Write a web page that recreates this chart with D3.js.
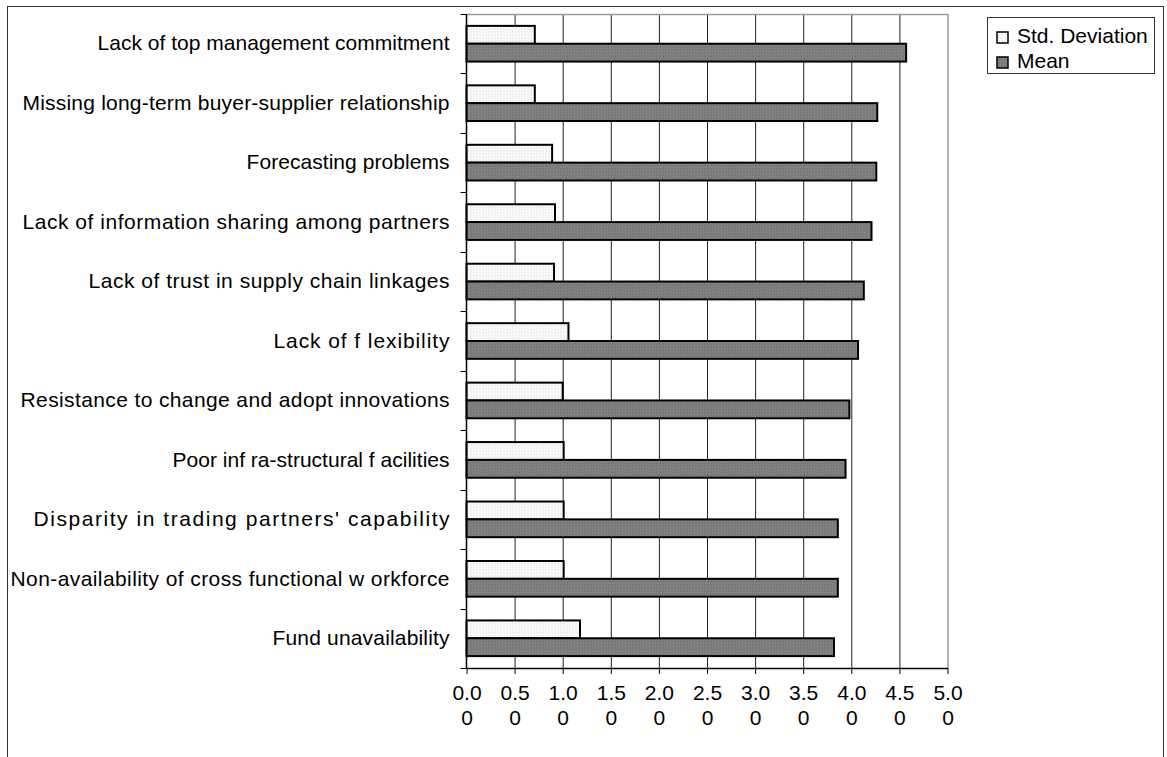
<!DOCTYPE html>
<html>
<head>
<meta charset="utf-8">
<script src="https://cdn.jsdelivr.net/npm/d3@7/dist/d3.min.js"></script>
<style>
  html, body { margin: 0; padding: 0; background: #fff; }
  svg { display: block; font-family: "Liberation Sans", Arial, sans-serif; }
</style>
</head>
<body>
<svg id="chart" width="1167" height="757"></svg>
<script>
// Barriers, listed top to bottom
const categories = [
  "Lack of top management commitment",
  "Missing long-term buyer-supplier relationship",
  "Forecasting problems",
  "Lack of information sharing among partners",
  "Lack of trust in supply chain linkages",
  "Lack of f lexibility",
  "Resistance to change and adopt innovations",
  "Poor inf ra-structural f acilities",
  "Disparity in trading partners' capability",
  "Non-availability of cross functional w orkforce",
  "Fund unavailability"
];
const stdDeviation = [0.71, 0.71, 0.89, 0.92, 0.91, 1.06, 1.00, 1.01, 1.01, 1.01, 1.18];
const meanScore    = [4.57, 4.27, 4.26, 4.21, 4.13, 4.07, 3.98, 3.94, 3.86, 3.86, 3.82];
const seriesNames  = ["Std. Deviation", "Mean"];
const tickValues   = [0, 0.5, 1, 1.5, 2, 2.5, 3, 3.5, 4, 4.5, 5];

// set widths of the category labels (the source typeface spaces them loosely)
const labelWidths = [352, 427, 203, 427, 361, 176, 429, 277, 416, 439, 177];

const rows = categories.map((c, i) => ({ category: c, values: [stdDeviation[i], meanScore[i]] }));

const svg = d3.select("#chart");
const plot = { left: 466.5, right: 947.5, top: 14, bottom: 668 };
const FONT = 21;

// outer chart frame
svg.append("rect")
  .attr("x", 7.5).attr("y", 6.5).attr("width", 1156).attr("height", 760)
  .attr("fill", "none").attr("stroke", "#333").attr("stroke-width", 1);

// dotted fills for the two series
const defs = svg.append("defs");
function dotPattern(id, base, dot) {
  const p = defs.append("pattern").attr("id", id)
    .attr("patternUnits", "userSpaceOnUse").attr("width", 3).attr("height", 3);
  p.append("rect").attr("width", 3).attr("height", 3).attr("fill", base);
  p.append("rect").attr("x", 0).attr("y", 0).attr("width", 1).attr("height", 1).attr("fill", dot);
  p.append("rect").attr("x", 2).attr("y", 2).attr("width", 1).attr("height", 1).attr("fill", dot);
}
dotPattern("fillStd", "#fbfbfb", "#e2e2e2");
dotPattern("fillMean", "#828282", "#6c6c6c");
const fills = ["url(#fillStd)", "url(#fillMean)"];

const x = d3.scaleLinear().domain([0, 5]).range([plot.left, plot.right]);
const y = d3.scaleBand().domain(categories).range([plot.top, plot.bottom]).padding(0);
const ySub = d3.scaleBand().domain([0, 1]).range([0, y.bandwidth()])
  .paddingInner(0).paddingOuter(0.667);

// vertical gridlines
svg.append("g").selectAll("line")
  .data(tickValues.filter(v => v > 0 && v < 5))
  .join("line")
  .attr("x1", d => x(d) + 0.5).attr("x2", d => x(d) + 0.5)
  .attr("y1", plot.top).attr("y2", plot.bottom)
  .attr("stroke", "#222").attr("stroke-width", 1);

// plot area border (top and right)
svg.append("path")
  .attr("d", `M${plot.left},${plot.top + 0.5}H${x(5) + 0.5}V${plot.bottom}`)
  .attr("fill", "none").attr("stroke", "#9a9a9a").attr("stroke-width", 1.5);

// bars
const groups = svg.append("g").selectAll("g")
  .data(rows).join("g")
  .attr("transform", d => `translate(0,${y(d.category)})`);
groups.selectAll("rect")
  .data(d => d.values.map((v, k) => ({ v, k })))
  .join("rect")
  .attr("x", x(0))
  .attr("y", d => ySub(d.k))
  .attr("width", d => x(d.v) - x(0))
  .attr("height", ySub.bandwidth())
  .attr("fill", d => fills[d.k])
  .attr("stroke", "#000").attr("stroke-width", 2);

// category axis
const yAxis = d3.axisLeft(y).tickSize(0).tickPadding(17);
const gy = svg.append("g").attr("transform", `translate(${plot.left},0)`).call(yAxis);
gy.select(".domain").remove();
gy.selectAll("text").attr("font-size", FONT).attr("fill", "#000")
  .attr("font-family", "Liberation Sans, Arial, sans-serif")
  .attr("textLength", (d, i) => labelWidths[i])
  .attr("lengthAdjust", "spacing");
// ticks between categories
const bounds = categories.map(c => y(c)).concat([plot.bottom]);
svg.append("g").selectAll("line").data(bounds).join("line")
  .attr("x1", plot.left - 6).attr("x2", plot.left)
  .attr("y1", d => Math.round(d) + 0.5).attr("y2", d => Math.round(d) + 0.5)
  .attr("stroke", "#000");
svg.append("line")
  .attr("x1", plot.left).attr("x2", plot.left)
  .attr("y1", plot.top).attr("y2", plot.bottom)
  .attr("stroke", "#000").attr("stroke-width", 1.5);

// value axis: labels wrap as "0.0" over "0"
const xAxis = d3.axisBottom(x).tickValues(tickValues).tickSize(6).tickSizeOuter(0)
  .tickFormat(d => d.toFixed(2));
const gx = svg.append("g").attr("transform", `translate(0,${plot.bottom})`).call(xAxis);
gx.select(".domain").attr("stroke", "#000").attr("stroke-width", 1.5);
gx.selectAll(".tick line").attr("stroke", "#000");
gx.selectAll(".tick text").each(function (d) {
  const s = d.toFixed(2);
  const t = d3.select(this).text(null)
    .attr("font-size", FONT).attr("fill", "#000")
    .attr("font-family", "Liberation Sans, Arial, sans-serif")
    .attr("y", 0).attr("dy", null);
  t.append("tspan").attr("x", 0).attr("y", 32).text(s.slice(0, 3));
  t.append("tspan").attr("x", 0).attr("y", 57).text(s.slice(3));
});

// legend
const legend = svg.append("g").attr("transform", "translate(987,17)");
legend.append("rect").attr("x", 0.5).attr("y", 0.5).attr("width", 167).attr("height", 56)
  .attr("fill", "#fff").attr("stroke", "#333");
seriesNames.forEach((name, k) => {
  const row = legend.append("g").attr("transform", `translate(0,${k * 25})`);
  row.append("rect").attr("x", 10).attr("y", 15).attr("width", 11).attr("height", 11)
    .attr("fill", fills[k]).attr("stroke", "#000").attr("stroke-width", 1.5);
  row.append("text").attr("x", 30).attr("y", 26)
    .attr("font-size", FONT).attr("fill", "#000").text(name);
});
</script>
</body>
</html>
